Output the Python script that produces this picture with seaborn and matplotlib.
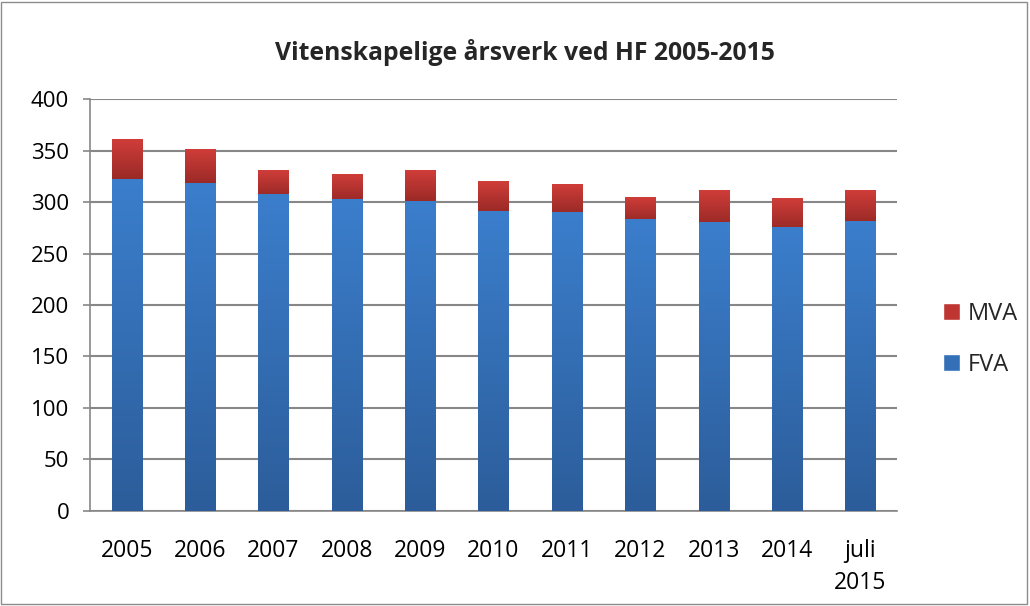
import matplotlib
matplotlib.use("Agg")
import matplotlib.pyplot as plt
import seaborn as sns
import numpy as np
import pandas as pd
from matplotlib.patches import Patch
from matplotlib.colors import LinearSegmentedColormap

years = ["2005", "2006", "2007", "2008", "2009", "2010", "2011", "2012", "2013", "2014", "juli\n2015"]
fva = [322, 318, 307, 302, 301, 291, 290, 283, 280, 275, 281]
mva = [38, 33, 24, 25, 30, 29, 27, 22, 32, 29, 31]
title = "Vitenskapelige årsverk ved HF 2005-2015"

sns.set_theme(style="white")
plt.rcParams['font.family'] = ['Open Sans', 'DejaVu Sans']

df = pd.DataFrame({"aar": years, "FVA": fva, "MVA": mva})
df["total"] = df["FVA"] + df["MVA"]

fig = plt.figure(figsize=(10.3, 6.06), dpi=100)
ax = fig.add_axes([0.0874, 0.1568, 0.7835, 0.6798])

sns.barplot(data=df, x="aar", y="total", color="#c0392b", width=0.41, ax=ax, zorder=2)
sns.barplot(data=df, x="aar", y="FVA", color="#3a7dcb", width=0.41, ax=ax, zorder=3)

# gradient fill like the original (lighter top, darker bottom)
red_cm = LinearSegmentedColormap.from_list("r", ["#9b2a27", "#d03d39"])
blue_cm = LinearSegmentedColormap.from_list("b", ["#2c5d9a", "#3b7ecc"])
grad = np.linspace(0, 1, 256).reshape(-1, 1)
n = len(years)
for i, p in enumerate(ax.patches):
    x, y, w, h = p.get_x(), p.get_y(), p.get_width(), p.get_height()
    if i < n:
        # red total bar: gradient only over the MVA part
        cm = red_cm
        ybot, ytop = fva[i], y + h
        z = 2
    else:
        cm = blue_cm
        ybot, ytop = y, y + h
        z = 3
    p.set_alpha(0)
    ax.imshow(grad, extent=[x, x + w, ybot, ytop], origin="lower", aspect="auto",
              cmap=cm, zorder=z + 0.5, interpolation="bicubic")
ax.set_xlim(-0.5, len(years) - 0.5)
ax.set_ylim(0, 400)

ax.set_yticks(range(0, 401, 50))
ax.yaxis.grid(True, color="#878787", linewidth=1.5, zorder=0)
ax.set_axisbelow(True)
for s in ["top", "right"]:
    ax.spines[s].set_visible(False)
for s in ["left", "bottom"]:
    ax.spines[s].set_color("#878787")
    ax.spines[s].set_linewidth(1.2)

ax.set_xticks(np.arange(-0.5, len(years), 1.0), minor=True)
ax.tick_params(axis="x", which="minor", length=7, width=1.2, color="#878787", direction="out")
ax.tick_params(axis="x", which="major", length=0, pad=20, labelsize=16.5, labelcolor="black")
ax.tick_params(axis="y", which="major", length=5, width=1.2, color="#878787", left=True,
               pad=10, labelsize=16, labelcolor="black")
for lab in ax.get_xticklabels():
    lab.set_verticalalignment("top")
    lab.set_linespacing(1.45)
ax.set_xlabel("")
ax.set_ylabel("")

fig.suptitle(title, x=0.51, y=0.935, fontsize=17.8, fontweight="bold")

handles = [Patch(facecolor="#bf3531", label="MVA"), Patch(facecolor="#3470b8", label="FVA")]
fig.legend(handles=handles, loc="center left", bbox_to_anchor=(0.895, 0.44), frameon=False,
           fontsize=17, handlelength=0.7, handleheight=0.7, handletextpad=0.35,
           labelspacing=1.15)

fig.patches.append(plt.Rectangle((0.001, 0.003), 0.996, 0.994, transform=fig.transFigure,
                                 fill=False, edgecolor="#8c8c8c", linewidth=1))

fig.savefig("out.png", dpi=100)
